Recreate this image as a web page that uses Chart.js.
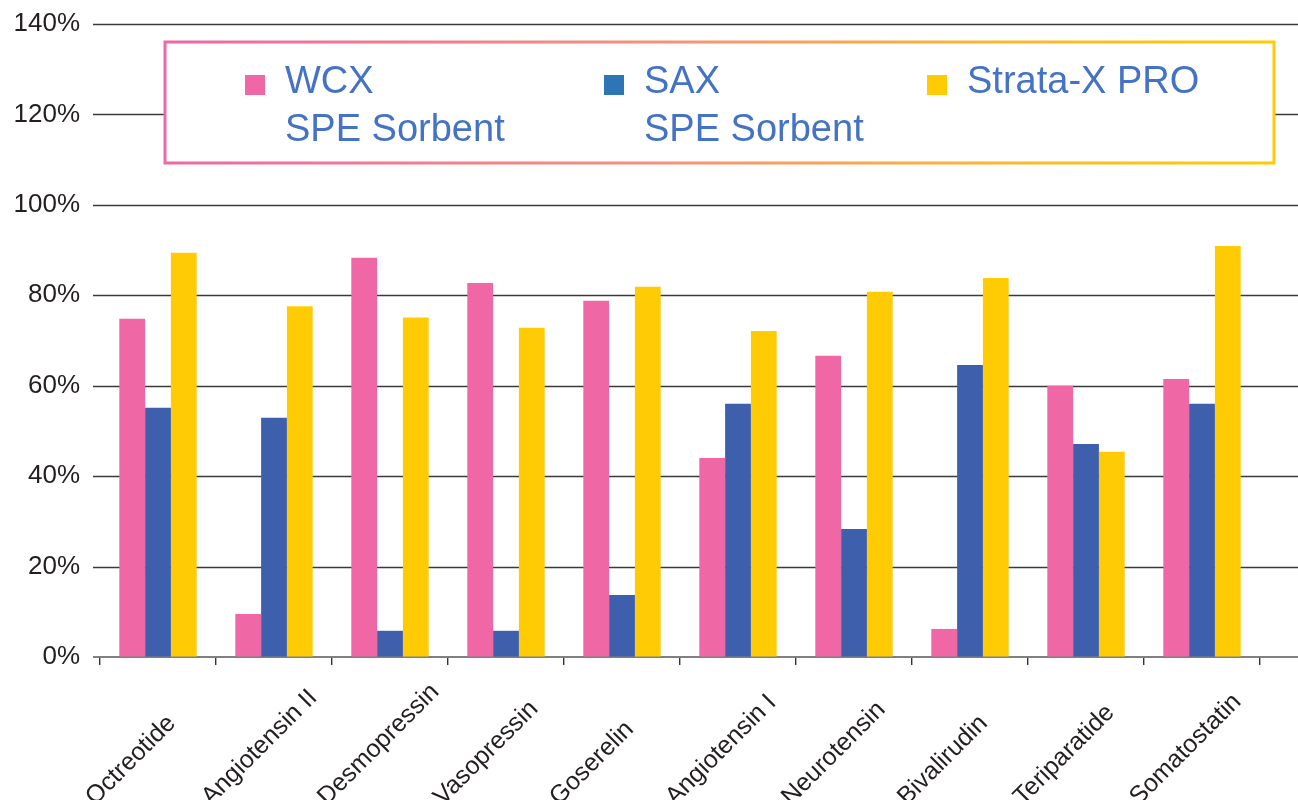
<!DOCTYPE html>
<html>
<head>
<meta charset="utf-8">
<script src="https://cdn.jsdelivr.net/npm/chart.js@4"></script>
<style>
  html, body { margin: 0; padding: 0; background: #fff; overflow: hidden; }
  #wrap { width: 1298px; height: 800px; }
</style>
</head>
<body>
<div id="wrap"><canvas id="recoveryChart"></canvas></div>
<script>
const peptides = ['Octreotide', 'Angiotensin II', 'Desmopressin', 'Vasopressin', 'Goserelin',
    'Angiotensin I', 'Neurotensin', 'Bivalirudin', 'Teriparatide', 'Somatostatin'];
const wcxValues = [74.8, 9.5, 88.3, 82.7, 78.8, 44.0, 66.6, 6.2, 60.0, 61.5];
const saxValues = [55.1, 52.9, 5.8, 5.8, 13.7, 56.0, 28.3, 64.6, 47.1, 56.0];
const strataValues = [89.4, 77.6, 75.1, 72.8, 81.9, 72.1, 80.8, 83.8, 45.4, 90.9];
const legendLines = [['WCX', 'SPE Sorbent'], ['SAX', 'SPE Sorbent'], ['Strata-X PRO']];

const FONT = '"Liberation Sans", Arial, Helvetica, sans-serif';
const PINK = '#EF67A5';
const BLUE = '#3E5FAC';
const YELLOW = '#FFCB05';

const boxLegend = {
    id: 'boxLegend',
    beforeDatasetsDraw(chart) {
        // horizontal grid lines, running on to the right edge of the picture
        const ctx = chart.ctx;
        const y = chart.scales.y;
        const left = chart.chartArea.left;
        ctx.save();
        ctx.strokeStyle = '#3a3a3a';
        ctx.lineWidth = 1.4;
        y.ticks.forEach(t => {
            if (t.value === 0) return;
            const py = Math.round(y.getPixelForValue(t.value)) + 0.5;
            ctx.beginPath();
            ctx.moveTo(left - 7, py);
            ctx.lineTo(chart.width, py);
            ctx.stroke();
        });
        const p0 = Math.round(y.getPixelForValue(0));
        ctx.strokeStyle = '#808080';
        ctx.lineWidth = 2;
        ctx.beginPath();
        ctx.moveTo(left - 7, p0);
        ctx.lineTo(chart.width, p0);
        ctx.stroke();
        ctx.restore();
    },
    afterDraw(chart) {
        const ctx = chart.ctx;
        const xs = chart.scales.x;
        ctx.save();

        // category labels, rotated, starting from a fixed point below each category
        ctx.font = '25px ' + FONT;
        ctx.fillStyle = '#231f20';
        ctx.textAlign = 'left';
        ctx.textBaseline = 'alphabetic';
        peptides.forEach((name, i) => {
            const cx = xs.getPixelForValue(i);
            ctx.save();
            ctx.translate(cx - 63, 806);
            ctx.rotate(-Math.PI / 4);
            ctx.fillText(name, 0, 0);
            ctx.restore();
        });

        // legend box sits inside the plot, over the grid lines
        const x0 = 165, y0 = 42, x1 = 1274, y1 = 163;
        ctx.fillStyle = '#fff';
        ctx.fillRect(x0, y0, x1 - x0, y1 - y0);
        const grad = ctx.createLinearGradient(x0, 0, x1, 0);
        grad.addColorStop(0, '#EF67A5');
        grad.addColorStop(0.45, '#F7917A');
        grad.addColorStop(0.75, '#FDB62E');
        grad.addColorStop(1, '#FFCB05');
        ctx.strokeStyle = grad;
        ctx.lineWidth = 3;
        ctx.strokeRect(x0, y0, x1 - x0, y1 - y0);

        const swatch = ['#EF67A5', '#2E75B6', '#FFCB05'];
        const sx = [245, 604, 927];
        ctx.font = '38px ' + FONT;
        legendLines.forEach((lines, i) => {
            ctx.fillStyle = swatch[i];
            ctx.fillRect(sx[i], 75, 20, 20);
            ctx.fillStyle = '#4472C4';
            lines.forEach((line, j) => {
                ctx.fillText(line, sx[i] + 40, 93 + j * 48);
            });
        });
        ctx.restore();
    }
};

document.addEventListener('DOMContentLoaded', () => {
    const ctx = document.getElementById('recoveryChart').getContext('2d');
    new Chart(ctx, {
        type: 'bar',
        data: {
            labels: peptides,
            datasets: [
                { label: 'WCX SPE Sorbent', data: wcxValues, backgroundColor: PINK },
                { label: 'SAX SPE Sorbent', data: saxValues, backgroundColor: BLUE },
                { label: 'Strata-X PRO', data: strataValues, backgroundColor: YELLOW }
            ]
        },
        options: {
            responsive: true,
            maintainAspectRatio: false,
            animation: false,
            layout: { padding: { top: 24, right: 38, left: 0, bottom: 0 } },
            datasets: {
                bar: { categoryPercentage: 0.667, barPercentage: 1.0 }
            },
            plugins: {
                legend: { display: false },
                tooltip: { enabled: false }
            },
            scales: {
                x: {
                    afterFit: scale => {
                        scale.height = 143;
                        scale.paddingLeft = 0;
                        scale.paddingRight = 0;
                    },
                    border: { display: false },
                    grid: {
                        offset: true,
                        drawOnChartArea: false,
                        tickLength: 8,
                        lineWidth: 1.4,
                        color: '#333'
                    },
                    ticks: { display: false }
                },
                y: {
                    min: 0,
                    max: 140,
                    afterFit: scale => {
                        scale.width = 100;
                        scale.paddingTop = 0;
                        scale.paddingBottom = 0;
                    },
                    border: { display: false },
                    grid: {
                        color: 'rgba(0,0,0,0)',
                        tickLength: 7
                    },
                    ticks: {
                        stepSize: 20,
                        padding: 13,
                        color: '#231f20',
                        font: { family: FONT, size: 26 },
                        callback: v => v + '%'
                    }
                }
            }
        },
        plugins: [boxLegend]
    });
});
</script>
</body>
</html>
